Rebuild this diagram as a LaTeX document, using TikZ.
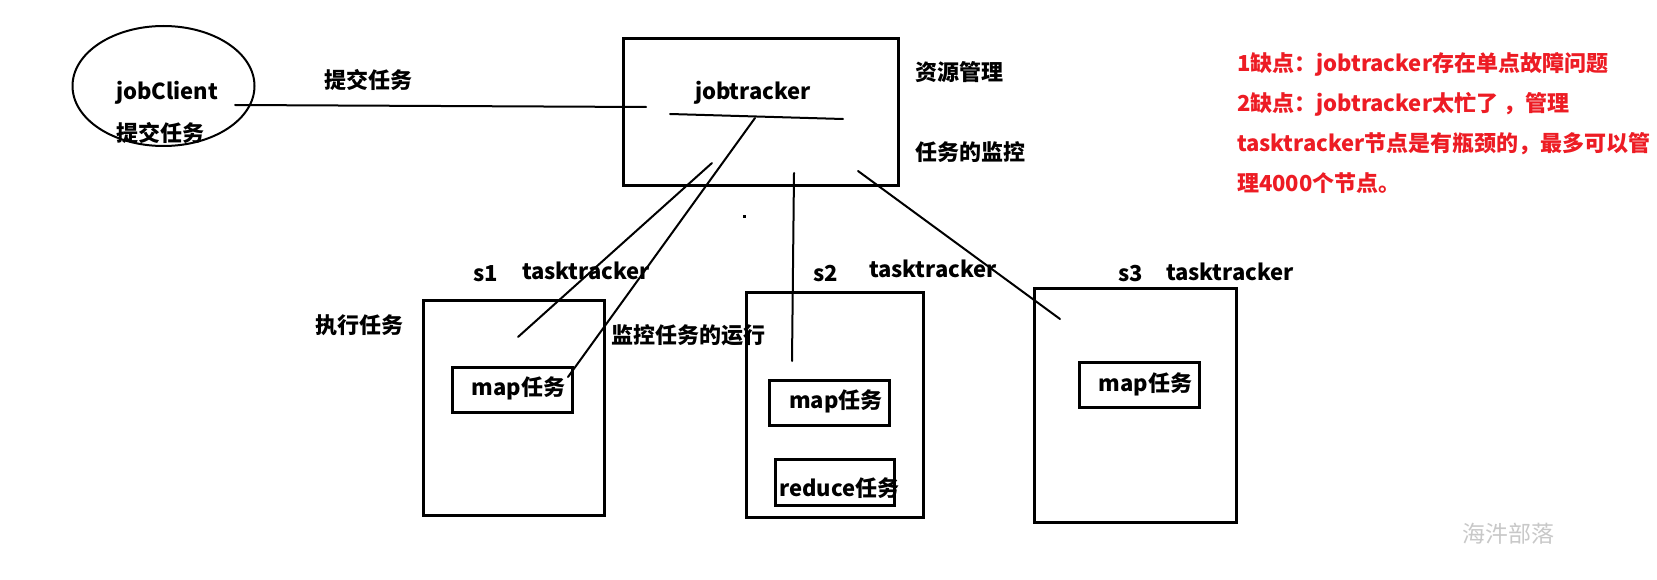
\documentclass[tikz,border=0pt]{standalone}
\usepackage{fontspec}
\setmainfont{Noto Sans CJK SC}
\usetikzlibrary{shapes.geometric}
\definecolor{paintred}{RGB}{237,28,36}
\definecolor{wmgray}{RGB}{200,200,200}
\begin{document}
\begin{tikzpicture}[x=1pt,y=-1pt,
  txt/.style={font=\fontsize{22}{26}\selectfont\bfseries, inner sep=0pt, outer sep=0pt, anchor=base west},
  redtxt/.style={txt, text=paintred},
  box/.style={draw, line width=3pt, inner sep=0pt, outer sep=0pt, rectangle},
  conn/.style={line width=2pt, line cap=round}]
\useasboundingbox[fill=white] (0,0) rectangle (1657,580);

% jobClient
\node[draw, ellipse, line width=2pt, minimum width=182pt, minimum height=120pt, inner sep=0pt] (client) at (163.5,86) {};
\node[txt] (clientname) at (116,100) {jobClient};
\node[txt] (clientsubmit) at (116,141.8) {提交任务};

% jobtracker
\node[box, minimum width=275pt, minimum height=147pt] (jt) at (760.5,112.5) {};
\node[txt] (jtname) at (695,100) {jobtracker};
\node[txt] (res) at (915,80.5) {资源管理};
\node[txt] (mon) at (915,160.5) {任务的监控};
\node[txt] (submit) at (324,89) {提交任务};

% connector jobClient -> jobtracker
\coordinate (c1) at (235,105);
\coordinate (c2) at (646,107);
\draw[conn] (c1) -- (c2);
\coordinate (u1) at (670,114);
\coordinate (u2) at (843,119);
\draw[conn] (u1) -- (u2);

% s1
\node[box, minimum width=181pt, minimum height=215pt] (s1) at (513.5,407.5) {};
\node[txt] (s1name) at (473,281.7) {s1};
\node[txt] (s1tt) at (522,279.3) {tasktracker};
\node[box, minimum width=120pt, minimum height=45pt] (m1) at (512,389.5) {};
\node[txt] (m1t) at (471.7,395.7) {map任务};
\node[txt] (exec) at (315,333.5) {执行任务};
\node[txt] (monrun) at (611,343.5) {监控任务的运行};

% s2
\node[box, minimum width=177pt, minimum height=225pt] (s2) at (834.5,404.5) {};
\node[txt] (s2name) at (813,281.7) {s2};
\node[txt] (s2tt) at (869,277.7) {tasktracker};
\node[box, minimum width=120pt, minimum height=45pt] (m2) at (829,402.5) {};
\node[txt] (m2t) at (789,408.3) {map任务};
\node[box, minimum width=119pt, minimum height=46pt] (r2) at (834.5,482) {};
\node[txt] (r2t) at (779.3,496.7) {reduce任务};

% s3
\node[box, minimum width=202pt, minimum height=234pt] (s3) at (1135,405) {};
\node[txt] (s3name) at (1118,281.7) {s3};
\node[txt] (s3tt) at (1166,280.7) {tasktracker};
\node[box, minimum width=120pt, minimum height=45pt] (m3) at (1139,384.5) {};
\node[txt] (m3t) at (1098.7,391.7) {map任务};

% connectors jobtracker -> tasktrackers
\coordinate (a1) at (712,163);
\coordinate (a2) at (518,337);
\draw[conn] (a1) -- (a2);
\coordinate (b1) at (755,118);
\coordinate (b2) at (568,377);
\draw[conn] (b1) -- (b2);
\coordinate (d1) at (794,173);
\coordinate (d2) at (792,361);
\draw[conn] (d1) -- (d2);
\coordinate (e1) at (858,171);
\coordinate (e2) at (1060,319);
\draw[conn] (e1) -- (e2);
\fill (742.5,215.5) rectangle (745.5,218.5);

% red notes
\node[redtxt] (n1) at (1237,71.5) {1缺点：jobtracker存在单点故障问题};
\node[redtxt] (n2) at (1237,111.5) {2缺点：jobtracker太忙了 ，管理};
\node[redtxt] (n3) at (1237,151.5) {tasktracker节点是有瓶颈的，最多可以管};
\node[redtxt] (n4) at (1237,191.5) {理4000个节点。};

% watermark
\node[font=\fontsize{23}{26}\selectfont, text=wmgray, inner sep=0pt, anchor=base west] (wm) at (1462.7,542) {海汼部落};
\end{tikzpicture}
\end{document}
